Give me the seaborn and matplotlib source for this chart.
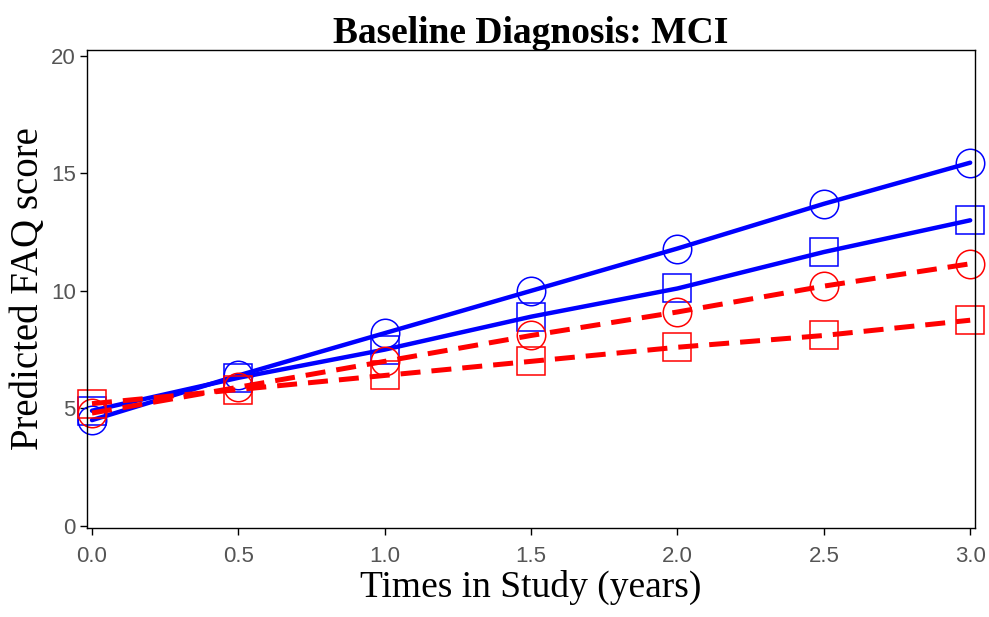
import matplotlib
matplotlib.use("Agg")
import matplotlib.pyplot as plt
import seaborn as sns
import pandas as pd

times = [0.0, 0.5, 1.0, 1.5, 2.0, 2.5, 3.0]
blue_circle = [4.5, 6.4, 8.2, 10.0, 11.8, 13.7, 15.45]
blue_square = [4.9, 6.3, 7.5, 8.9, 10.1, 11.65, 13.0]
red_circle = [4.8, 5.9, 7.0, 8.1, 9.1, 10.2, 11.15]
red_square = [5.2, 5.8, 6.4, 7.0, 7.6, 8.1, 8.75]
x_ticks = [0.0, 0.5, 1.0, 1.5, 2.0, 2.5, 3.0]
y_ticks = [0, 5, 10, 15, 20]

sns.set_style("white")

fig = plt.figure(figsize=(9.89, 6.17), dpi=100)
ax = fig.add_axes([0.088, 0.1442, 0.898, 0.775])

series = [
    (blue_circle, "#0000ff", "-", "o"),
    (blue_square, "#0000ff", "-", "s"),
    (red_circle, "#ff0000", (0, (4, 2.2)), "o"),
    (red_square, "#ff0000", (0, (4, 2.2)), "s"),
]
for vals, col, ls, mk in series:
    df = pd.DataFrame({"t": times, "v": vals})
    sns.lineplot(data=df, x="t", y="v", ax=ax, color=col, linestyle=ls,
                 linewidth=3.2 if ls == "-" else 3.6,
                 marker=mk, markersize=20.5 if mk == "o" else 19.5,
                 markerfacecolor="none", markeredgecolor=col,
                 markeredgewidth=1.1, legend=False, clip_on=False)

ax.set_xlim(-0.017, 3.017)
ax.set_ylim(-0.09, 20.25)
ax.set_xticks(x_ticks)
ax.set_xticklabels([f"{v:.1f}" for v in x_ticks])
ax.set_yticks(y_ticks)
ax.set_yticklabels([str(v) for v in y_ticks])

for s in ax.spines.values():
    s.set_visible(True)
    s.set_color("black")
    s.set_linewidth(1.0)

ax.tick_params(axis="both", direction="out", length=5, width=1, color="black",
               labelsize=16, labelcolor="#555555", bottom=True, left=True)
ax.tick_params(axis="x", pad=8)
ax.tick_params(axis="y", pad=3)
for lab in ax.get_xticklabels() + ax.get_yticklabels():
    lab.set_fontfamily("Liberation Sans")

ax.set_title("Baseline Diagnosis: MCI", fontfamily="Liberation Serif",
             fontweight="bold", fontsize=27, pad=5, color="black")
ax.set_xlabel("Times in Study (years)", fontfamily="Liberation Serif",
              fontsize=27, labelpad=2, color="black")
ax.set_ylabel("Predicted FAQ score", fontfamily="Liberation Serif",
              fontsize=28, labelpad=3, color="black")

fig.savefig("out.png", dpi=100)
